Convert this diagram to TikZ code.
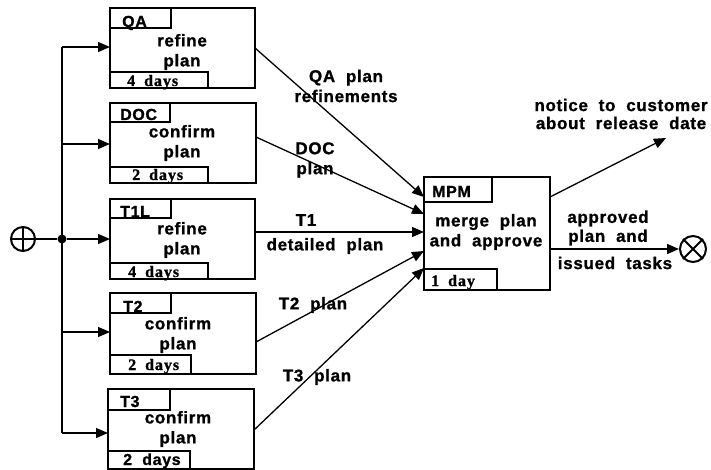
\documentclass[tikz,border=0pt]{standalone}
\usepackage{fontspec}
\setmainfont{Liberation Sans}
\newfontfamily\lblfont[LetterSpace=4,WordSpace=2,FakeBold=1]{Liberation Sans Bold}
\newfontfamily\srffont[LetterSpace=6,WordSpace=1.8,FakeBold=1]{Liberation Serif Bold}
\usetikzlibrary{arrows.meta}
\begin{document}
\begin{tikzpicture}[x=1pt,y=-1pt,
  lbl/.style={font=\lblfont\fontsize{17}{20}\selectfont,inner sep=0pt,align=center},
  dayt/.style={font=\srffont\fontsize{16}{18}\selectfont,inner sep=0pt,anchor=base west},
  dayts/.style={font=\lblfont\fontsize{16}{18}\selectfont,inner sep=0pt,anchor=base west},
  tagt/.style={font=\lblfont\fontsize{16}{18}\selectfont,inner sep=0pt,anchor=base west},
  actbox/.style={draw,line width=1.2pt,rectangle,inner sep=0pt,outer sep=0pt,anchor=north west},
  tagbox/.style={draw,line width=1.2pt,rectangle,inner sep=0pt,outer sep=0pt,anchor=north west},
  daybox/.style={draw,line width=1.2pt,rectangle,inner sep=0pt,outer sep=0pt,anchor=south west},
  arr/.style={line width=1.3pt,-{Triangle[length=12pt,width=10pt]}},
  ln/.style={line width=1.3pt}]
\useasboundingbox (0,0) rectangle (711,470);

% activity boxes
\node[actbox,minimum width=145pt,minimum height=80pt] (qa) at (110,8) {};
\node[tagbox,minimum width=61pt,minimum height=20pt] (qatag) at (qa.north west) {};
\node[daybox,minimum width=98pt,minimum height=16pt] (qaday) at (qa.south west) {};
\node[tagt] (qatagt) at (122,27) {QA};
\node[dayt] (qadayt) at (127,86) {4 days};
\node[lbl] (qatxt) at (182,52) {refine\\plan};

\node[actbox,minimum width=146pt,minimum height=80pt] (doc) at (110,103) {};
\node[tagbox,minimum width=60pt,minimum height=19pt] (doctag) at (doc.north west) {};
\node[daybox,minimum width=98pt,minimum height=16pt] (docday) at (doc.south west) {};
\node[tagt] (doctagt) at (120,120) {DOC};
\node[dayt] (docdayt) at (132,180) {2 days};
\node[lbl] (doctxt) at (182,143) {confirm\\plan};

\node[actbox,minimum width=145pt,minimum height=80pt] (tl) at (110,199) {};
\node[tagbox,minimum width=61pt,minimum height=19pt] (tltag) at (tl.north west) {};
\node[daybox,minimum width=98pt,minimum height=16pt] (tlday) at (tl.south west) {};
\node[tagt] (tltagt) at (120,217) {T1L};
\node[dayt] (tldayt) at (128,277) {4 days};
\node[lbl] (tltxt) at (182,240) {refine\\plan};

\node[actbox,minimum width=146pt,minimum height=81pt] (tb) at (110,293) {};
\node[tagbox,minimum width=61pt,minimum height=20pt] (tbtag) at (tb.north west) {};
\node[daybox,minimum width=81pt,minimum height=19pt] (tbday) at (tb.south west) {};
\node[tagt] (tbtagt) at (123,312) {T2};
\node[dayt] (tbdayt) at (128,370) {2 days};
\node[lbl] (tbtxt) at (178,335) {confirm\\plan};

\node[actbox,minimum width=146pt,minimum height=80pt] (tc) at (108,389) {};
\node[tagbox,minimum width=62pt,minimum height=21pt] (tctag) at (tc.north west) {};
\node[daybox,minimum width=82pt,minimum height=18pt] (tcday) at (tc.south west) {};
\node[tagt] (tctagt) at (120,407) {T3};
\node[dayts] (tcdayt) at (123,465) {2 days};
\node[lbl] (tctxt) at (178,429) {confirm\\plan};

\node[actbox,minimum width=126pt,minimum height=113pt] (mpm) at (424,177) {};
\node[tagbox,minimum width=68pt,minimum height=25pt] (mpmtag) at (mpm.north west) {};
\node[daybox,minimum width=73pt,minimum height=21pt] (mpmday) at (mpm.south west) {};
\node[tagt] (mpmtagt) at (432,197) {MPM};
\node[dayt] (mpmdayt) at (431,286) {1 day};
\node[lbl] (mpmtxt) at (486,232) {merge plan\\and approve};

% start and end junctions
\node[draw,circle,line width=2pt,minimum size=24pt,inner sep=0pt] (start) at (23,239) {};
\draw[line width=2pt] (start.north) -- (start.south) (start.west) -- (start.east);
\node[fill,circle,minimum size=9pt,inner sep=0pt] (fork) at (62,239) {};
\node[draw,circle,line width=2pt,minimum size=26pt,inner sep=0pt] (stop) at (693,249) {};
\draw[line width=2pt] (stop.north east) -- (stop.south west) (stop.north west) -- (stop.south east);

% fork lines
\coordinate (f1) at (62,47);
\coordinate (f2) at (62,144);
\coordinate (f4) at (62,332);
\coordinate (f5) at (62,433);
\draw[ln] (start) -- (fork);
\draw[ln] (f1) -- (f5);
\draw[arr] (f1) -- (f1 -| qa.west);
\draw[arr] (f2) -- (f2 -| doc.west);
\draw[arr] (fork) -- (fork -| tl.west);
\draw[arr] (f4) -- (f4 -| tb.west);
\draw[arr] (f5) -- (f5 -| tc.west);

% outputs of activities
\coordinate (qao) at (255,48);
\coordinate (doco) at (256,137);
\coordinate (tlo) at (255,232);
\coordinate (tbo) at (256,342);
\coordinate (tco) at (254,430);
\coordinate (m1) at (424,197);
\coordinate (m2) at (424,214);
\coordinate (m3) at (424,232);
\coordinate (m4) at (424,251);
\coordinate (m5) at (424,268);
\draw[arr] (qao) -- (m1);
\draw[arr] (doco) -- (m2);
\draw[arr] (tlo) -- (m3);
\draw[arr] (tbo) -- (m4);
\draw[arr] (tco) -- (m5);

% outputs of MPM
\coordinate (mo1) at (550,197);
\coordinate (notice) at (666,138);
\coordinate (mo2) at (550,249);
\draw[arr] (mo1) -- (notice);
\draw[arr] (mo2) -- (stop.west);

% connector labels
\node[lbl] (lqa) at (346,86) {QA plan\\refinements};
\node[lbl] (ldoc) at (315,160) {DOC\\plan};
\node[lbl] (lt1) at (306,220) {T1};
\node[lbl] (lt1b) at (325,246) {detailed plan};
\node[lbl] (lt2) at (313,305) {T2 plan};
\node[lbl] (lt3) at (317,377) {T3 plan};
\node[lbl,font=\lblfont\fontsize{17}{18}\selectfont] (lnot) at (621,114) {notice to customer\\about release date};
\node[lbl,font=\lblfont\fontsize{17}{19}\selectfont] (lapp) at (608,228) {approved\\plan and};
\node[lbl] (liss) at (615,263) {issued tasks};
\end{tikzpicture}
\end{document}
